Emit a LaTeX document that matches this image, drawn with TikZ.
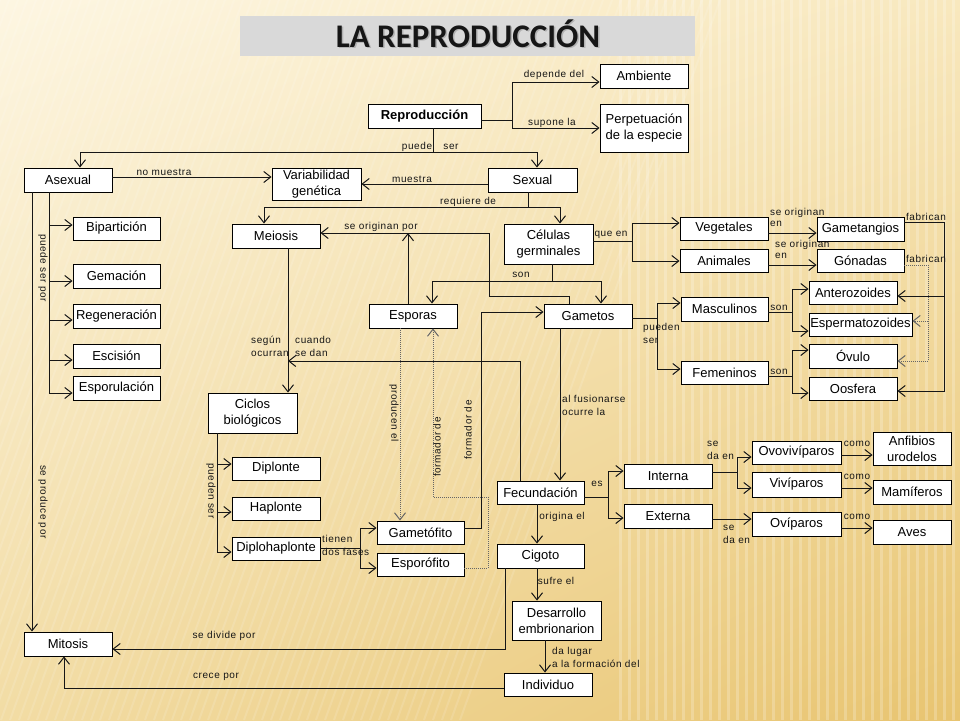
\documentclass[tikz,border=0pt]{standalone}
\usepackage{fontspec}
\setmainfont{Liberation Sans}
\newfontfamily\lblfont[LetterSpace=6]{Liberation Sans}
\newfontfamily\ttlfont{Carlito}
\usetikzlibrary{arrows.meta,shadings}
\definecolor{bgA}{HTML}{FDF6E2}
\definecolor{bgB}{HTML}{F8E8BE}
\definecolor{bgC}{HTML}{F2DCA4}
\definecolor{bgD}{HTML}{E8C470}
\definecolor{ttlgray}{HTML}{D9D9D9}
\definecolor{ink}{HTML}{161616}
\newcommand\BX[6]{\node[box, minimum width={#4-#2}, minimum height={#5-#3}] (#1) at ({(#2+#4)/2},{(#3+#5)/2}) {#6};}
\begin{document}
\begin{tikzpicture}[x=1pt,y=-1pt,
  box/.style={draw=black, fill=white, line width=0.9pt, font=\fontsize{13}{16}\selectfont, align=center, inner sep=0pt, text=black},
  lbl/.style={font=\lblfont\fontsize{10}{13}\selectfont, inner sep=0pt, text=ink},
  llbl/.style={lbl, align=left, anchor=base west},
  conn/.style={line width=1pt, draw=ink},
  arr/.style={conn, -{Straight Barb[length=7pt,width=11pt,line width=1pt]}},
  dotarr/.style={arr, densely dotted, line width=0.8pt, draw=black!60}
]
\useasboundingbox (0,0) rectangle (960,720);
% background
\shade[upper left=bgA, upper right=bgB, lower left=bgC, lower right=bgD] (0,0) rectangle (960,720);
\begin{scope}
\clip (0,0) rectangle (960,720);
\foreach \k in {0,...,38}{\draw[white, opacity=0.22, line width=3pt] ({620+\k*9},0) -- ({620+\k*9},720);}
\foreach \k in {0,...,80}{\draw[white, opacity=0.13, line width=2pt] ({-260+\k*9},720) -- ({\k*9},0);}
\end{scope}
% title
\node[fill=ttlgray, minimum width=455, minimum height=40, inner sep=0pt, anchor=north west] (ttlbg) at (240,16) {};
\node[text=black!30, font=\ttlfont\bfseries\fontsize{33}{36}\selectfont, anchor=base, inner sep=0pt] (ttlsh) at (469.5,48.5) {LA REPRODUCCIÓN};
\node[text=ink, font=\ttlfont\bfseries\fontsize{33}{36}\selectfont, anchor=base, inner sep=0pt] (ttl) at (468,47) {LA REPRODUCCIÓN};
% boxes
\BX{repro}{368}{104}{481}{128}{\bfseries Reproducción}
\BX{amb}{600}{64}{688}{88}{Ambiente}
\BX{perp}{600}{104}{688}{152}{Perpetuación\\de la especie}
\BX{asex}{24}{168}{112}{192}{Asexual}
\BX{var}{272}{168}{361}{200}{Variabilidad\\genética}
\BX{sex}{488}{168}{577}{192}{Sexual}
\BX{bip}{73}{217}{160}{240}{Bipartición}
\BX{gem}{73}{264}{160}{288}{Gemación}
\BX{reg}{73}{304}{160}{328}{Regeneración}
\BX{esc}{73}{344}{160}{368}{Escisión}
\BX{espo}{73}{376}{160}{400}{Esporulación}
\BX{mei}{232}{224}{320}{248}{Meiosis}
\BX{cel}{504}{224}{593}{264}{Células\\germinales}
\BX{veg}{680}{217}{768}{240}{Vegetales}
\BX{ani}{680}{249}{768}{272}{Animales}
\BX{gtg}{817}{217}{904}{241}{Gametangios}
\BX{gon}{817}{249}{904}{272}{Gónadas}
\BX{esp}{369}{304}{457}{328}{Esporas}
\BX{gam}{544}{304}{632}{328}{Gametos}
\BX{masc}{681}{297}{768}{321}{Masculinos}
\BX{fem}{681}{361}{768}{384}{Femeninos}
\BX{ant}{809}{281}{897}{304}{Anterozoides}
\BX{spz}{809}{313}{912}{336}{Espermatozoides}
\BX{ovu}{809}{344}{897}{368}{Óvulo}
\BX{oos}{809}{377}{897}{400}{Oosfera}
\BX{cic}{208}{393}{297}{433}{Ciclos\\biológicos}
\BX{dipl}{232}{457}{320}{480}{Diplonte}
\BX{hapl}{232}{497}{320}{520}{Haplonte}
\BX{dh}{232}{537}{320}{560}{Diplohaplonte}
\BX{gmf}{377}{521}{464}{544}{Gametófito}
\BX{spf}{377}{553}{464}{576}{Esporófito}
\BX{fec}{497}{481}{584}{504}{Fecundación}
\BX{cig}{497}{544}{584}{568}{Cigoto}
\BX{des}{512}{601}{601}{640}{Desarrollo\\embrionarion}
\BX{ind}{504}{673}{592}{696}{Individuo}
\BX{int}{624}{464}{712}{488}{Interna}
\BX{ext}{624}{504}{712}{528}{Externa}
\BX{ovov}{752}{441}{841}{464}{Ovovivíparos}
\BX{viv}{752}{472}{841}{497}{Vivíparos}
\BX{ovi}{752}{512}{841}{536}{Ovíparos}
\BX{anf}{873}{432}{951}{465}{Anfibios\\urodelos}
\BX{mam}{873}{480}{951}{504}{Mamíferos}
\BX{aves}{873}{520}{951}{544}{Aves}
\BX{mit}{24}{632}{112}{656}{Mitosis}
% connectors
\draw[conn] (repro.south -| 433,0) -- (433,152);
\draw[arr] (433,152) -| (asex.north -| 80,0);
\draw[arr] (433,152) -| (sex.north -| 537,0);
\draw[conn] (repro.east |- 0,120) -- (512,120);
\draw[arr] (512,120) |- (amb.west |- 0,82);
\draw[arr] (512,120) |- (perp.west |- 0,128);
\draw[arr] (asex.east |- 0,177) -- (var.west |- 0,177);
\draw[arr] (sex.west |- 0,184) -- (var.east |- 0,184);
\draw[conn] (sex.south -| 528,0) -- (528,207);
\draw[arr] (528,207) -| (mei.north -| 264,0);
\draw[arr] (528,207) -| (cel.north -| 560,0);
\draw[arr] (gam.north -| 569,0) |- (489,296) |- (mei.east |- 0,233);
\draw[arr] (esp.north -| 408,0) -- (408,233);
\draw[conn] (cel.south -| 552,0) -- (552,281);
\draw[arr] (552,281) -| (esp.north -| 432,0);
\draw[arr] (552,281) -| (gam.north -| 601,0);
\draw[conn] (cel.east |- 0,241) -- (632,241);
\draw[arr] (632,241) |- (veg.west |- 0,223);
\draw[arr] (632,241) |- (ani.west |- 0,261);
\draw[arr] (veg.east |- 0,233) -- (gtg.west |- 0,233);
\draw[arr] (ani.east |- 0,265) -- (gon.west |- 0,265);
\draw[arr] (gtg.east |- 0,222) -| (944,391) -- (oos.east |- 0,391);
\draw[arr] (944,296) -- (ant.east |- 0,296);
\draw[dotarr] (gon.east |- 0,265) -| (928,361) -- (ovu.east |- 0,361);
\draw[dotarr] (928,321) -- (spz.east |- 0,321);
\draw[conn] (gam.east |- 0,318) -- (657,318);
\draw[arr] (657,318) |- (masc.west |- 0,303);
\draw[arr] (657,318) |- (fem.west |- 0,369);
\draw[conn] (masc.east |- 0,312) -- (792,312);
\draw[arr] (792,312) |- (ant.west |- 0,289);
\draw[arr] (792,312) |- (spz.west |- 0,331);
\draw[conn] (fem.east |- 0,376) -- (792,376);
\draw[arr] (792,376) |- (ovu.west |- 0,350);
\draw[arr] (792,376) |- (oos.west |- 0,393);
\draw[arr] (asex.south -| 32,0) -- (mit.north -| 32,0);
\draw[conn] (asex.south -| 49,0) -- (49,393);
\draw[arr] (49,225) -- (bip.west |- 0,225);
\draw[arr] (49,281) -- (gem.west |- 0,281);
\draw[arr] (49,320) -- (reg.west |- 0,320);
\draw[arr] (49,360) -- (esc.west |- 0,360);
\draw[arr] (49,393) -- (espo.west |- 0,393);
\draw[arr] (mei.south -| 288,0) -- (cic.north -| 288,0);
\draw[arr] (fec.north -| 520,0) |- (288,361);
\draw[arr] (gam.south -| 560,0) -- (fec.north -| 560,0);
\draw[conn] (cic.south -| 217,0) -- (217,552);
\draw[arr] (217,464) -- (dipl.west |- 0,464);
\draw[arr] (217,512) -- (hapl.west |- 0,512);
\draw[arr] (217,552) -- (dh.west |- 0,552);
\draw[conn] (dh.east |- 0,548) -- (360,548);
\draw[arr] (360,548) |- (gmf.west |- 0,528);
\draw[arr] (360,548) |- (spf.west |- 0,568);
\draw[arr] (gmf.east |- 0,528) -| (481,312) -- (gam.west |- 0,312);
\draw[dotarr] (spf.east |- 0,568) -| (488,497) -| (esp.south -| 433,0);
\draw[dotarr] (esp.south -| 400,0) -- (gmf.north -| 400,0);
\draw[arr] (fec.south -| 537,0) -- (cig.north -| 537,0);
\draw[conn] (fec.east |- 0,497) -- (608,497);
\draw[arr] (608,497) |- (int.west |- 0,471);
\draw[arr] (608,497) |- (ext.west |- 0,518);
\draw[conn] (int.east |- 0,472) -- (737,472);
\draw[arr] (737,472) |- (ovov.west |- 0,457);
\draw[arr] (737,472) |- (viv.west |- 0,488);
\draw[arr] (ext.east |- 0,519) -- (ovi.west |- 0,519);
\draw[arr] (ovov.east |- 0,455) -- (anf.west |- 0,455);
\draw[arr] (viv.east |- 0,488) -- (mam.west |- 0,488);
\draw[arr] (ovi.east |- 0,528) -- (aves.west |- 0,528);
\draw[arr] (cig.south -| 537,0) -- (des.north -| 537,0);
\draw[arr] (des.south -| 545,0) -- (ind.north -| 545,0);
\draw[arr] (cig.south -| 505,0) |- (mit.east |- 0,649);
\draw[arr] (ind.west |- 0,688) -| (mit.south -| 64,0);
% labels
\node[lbl] (l1) at (554,75) {depende del};
\node[lbl] (l2) at (552,123) {supone la};
\node[lbl] (l3) at (417,147) {puede};
\node[lbl] (l4) at (451,147) {ser};
\node[lbl] (l5) at (164,172) {no muestra};
\node[lbl] (l6) at (412,179) {muestra};
\node[lbl] (l7) at (468,202) {requiere de};
\node[lbl] (l8) at (381,227) {se originan por};
\node[lbl] (l9) at (611,235) {que en};
\node[llbl] (l10) at (770,226) {se originan\\[-2pt]en};
\node[llbl] (l11) at (775,258) {se originan\\[-2pt]en};
\node[lbl] (l12) at (926,217) {fabrican};
\node[lbl] (l13) at (926,259) {fabrican};
\node[lbl] (l14) at (521,275) {son};
\node[llbl] (l15) at (643,343) {pueden\\ser};
\node[lbl] (l16) at (779,308) {son};
\node[lbl] (l17) at (779,372) {son};
\node[llbl] (l18) at (251,356) {según\\ocurran};
\node[llbl] (l19) at (295,356) {cuando\\ se dan};
\node[llbl] (l20) at (562,415) {al fusionarse\\ocurre la};
\node[lbl] (l21) at (597,484) {es};
\node[lbl] (l22) at (562,517) {origina el};
\node[llbl] (l23) at (707,459) {se\\da en};
\node[llbl] (l24) at (723,543) {se\\da en};
\node[lbl] (l25) at (857,444) {como};
\node[lbl] (l26) at (857,477) {como};
\node[lbl] (l27) at (857,517) {como};
\node[llbl] (l28) at (322,555) {tienen\\dos fases};
\node[lbl] (l29) at (556,581) {sufre el};
\node[llbl] (l30) at (552,667) {da lugar\\a la formación del};
\node[lbl] (l31) at (224,636) {se divide por};
\node[lbl] (l32) at (216,677) {crece por};
\node[lbl, rotate=-90] (l33) at (43,268) {puede ser por};
\node[lbl, rotate=-90] (l34) at (43,502) {se produce por};
\node[lbl, rotate=-90] (l35) at (211,491) {pueden ser};
\node[lbl, rotate=-90] (l36) at (394,413) {producen el};
\node[lbl, rotate=90] (l37) at (437,447) {formador de};
\node[lbl, rotate=90] (l38) at (468,430) {formador de};
\end{tikzpicture}
\end{document}
